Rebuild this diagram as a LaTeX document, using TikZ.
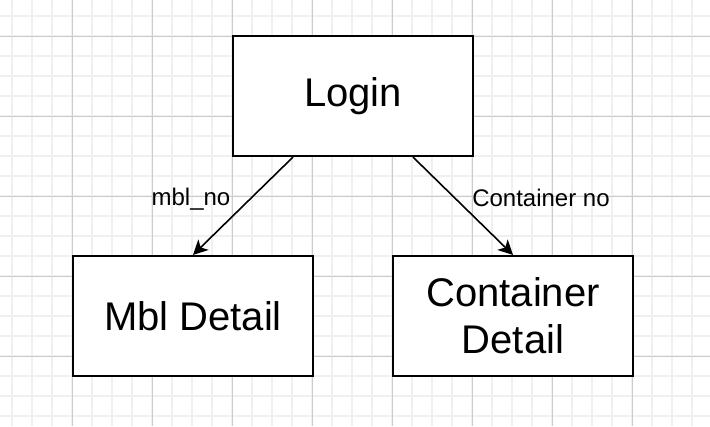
\documentclass[tikz,border=0pt]{standalone}
\usepackage{fontspec}
\setsansfont{Liberation Sans}
\usetikzlibrary{arrows.meta}

\begin{document}
\begin{tikzpicture}[
  x=0.75pt, y=-0.75pt,
  font=\sffamily,
  minorline/.style={draw=black!6, line width=1.2pt},
  majorline/.style={draw=black!20, line width=0.75pt},
  box/.style={
    rectangle, draw=black, fill=white, line width=1.6pt,
    minimum width=180pt, minimum height=90pt,
    align=center, font=\sffamily\fontsize{30}{35}\selectfont,
  },
  lbl/.style={font=\sffamily\fontsize{18}{21}\selectfont, inner sep=1pt},
  conn/.style={draw=black, line width=1.2pt,
    -{Stealth[length=11pt, width=11pt, inset=3pt]}},
]

% background grid
\useasboundingbox (0,0) rectangle (710,426);
\fill[white] (0,0) rectangle (710,426);
\foreach \x in {12,32,...,712} \draw[minorline] (\x,0) -- (\x,426);
\foreach \y in {16,36,...,416} \draw[minorline] (0,\y) -- (710,\y);
\foreach \x in {72,152,...,712} \draw[majorline] (\x,0) -- (\x,426);
\foreach \y in {36,116,...,356} \draw[majorline] (0,\y) -- (710,\y);

% boxes
\node[box] (login) at (353,96) {Login};
\node[box] (mbl) at (193,316) {Mbl Detail};
\node[box] (container) at (513,316) {Container\\Detail};

% links
\draw[conn] ([xshift=-45pt]login.south) -- (mbl.north);
\draw[conn] ([xshift=45pt]login.south) -- (container.north);

\node[lbl] (mblno) at (191,199) {mbl\_no};
\node[lbl] (containerno) at (541,198) {Container no};

\end{tikzpicture}
\end{document}
